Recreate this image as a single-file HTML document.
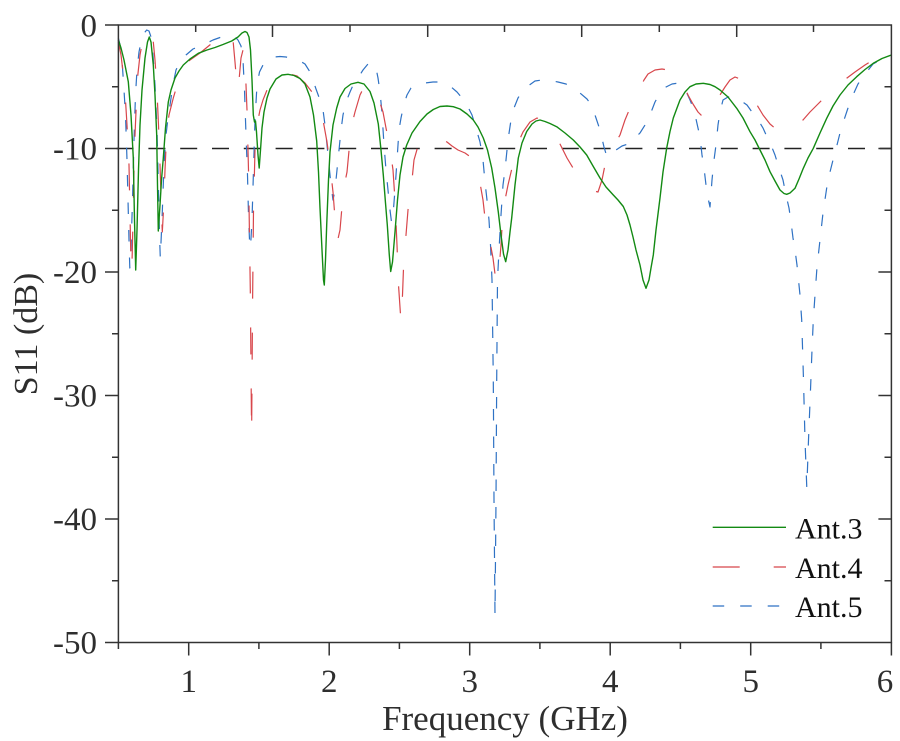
<!DOCTYPE html>
<html>
<head>
<meta charset="utf-8">
<style>
html,body{margin:0;padding:0;background:#fff;}
svg{display:block;}
.t{font-family:"Liberation Serif","Times New Roman",Times,serif;}
</style>
</head>
<body>
<svg width="900" height="741" viewBox="0 0 900 741" xmlns="http://www.w3.org/2000/svg">
<rect x="0" y="0" width="900" height="741" fill="#fff"/>
<line x1="116.6" y1="148.5" x2="891" y2="148.5" stroke="#222" stroke-width="1.5" stroke-dasharray="17 14.8"/>
<polyline fill="none" stroke="#2f72c4" stroke-width="1.2" stroke-dasharray="11.5 16" stroke-linejoin="round" points="118.4,38 120,45 122,60 124,90 125.5,115 127,160 128,200 129,240 129.8,268 131,250 132.5,200 134,140 135.5,95 137,70 139,52 141,42 143.5,34 146.7,30 149,31 151,37 153,55 155,85 157,130 158.5,190 159.5,235 160.3,258 162,220 164,165 166,135 168,118 170,105 173,85 176,70 180,62 186,55 193,49 200,46 207,43 213,40 220,37.5 226,36 231,35.5 235,37 238,40 241,46 243,60 244.5,90 246,135 247.5,175 248.5,215 249.5,240 250.5,248 252,220 253.5,170 255,120 257,85 259.5,72 263,65 268,59 274,57 280,56.5 286,57 293,58.5 300,61 305,64 310,72 313,80 316,89 320,100 323,110 325,125 327,145 329,165 331,185 333,200 335,190 337,170 339,150 341,130 343,115 346,102 350,92 354,83 358,78 363,70 368,64 373,63 376,68 378,78 380,92 382,113 384,145 386,170 388,190 390,210 391.5,222 393,215 395,190 397,160 399,130 401,118 404,104 407,95 411,88 416,85 425,83 433,82 441,82 450,86 457,92 462,98 467,105 472,115 476,128 480,142 483,160 485,182 487,200 489,220 490.5,245 492,280 493.3,380 494,500 495,615 496,500 496.7,380 497.5,280 499,250 501,215 503,185 505,170 508,140 511,120 514,108 518,98 522,92 528,86 535,81 542,80 550,80.5 558,82 566,84 573,88 580,93 587,99 592,106 596,118 600,130 604,147 607,157 611,153 616,150 622,146 628,144 634,139 640,133 645,125 650,115 655,102 660,93 666,87 672,84 679,83 684,87 690,100 694,110 698,128 700,137 702,155 704,168 706,185 708,198 710,207 712,180 714,160 716,145 718,125 720,112 723,100 728,97 734,97 740,100 747,105 752,112 757,118 763,128 767,137 771,145 775,155 779,168 783,180 786,195 789,208 791,222 793,238 795,250 797,265 798.5,280 800,295 801.7,320 803.5,380 805,440 806.8,488 808.5,440 810.5,390 812,350 813.3,320 815,295 817,267 820,240 823,213 827,186 830,172 833,160 837,145 840,133 844,120 848,108 853,95 858,84 865,74 873,64 882,59 891.4,55"/>
<polyline fill="none" stroke="#d8464b" stroke-width="1.2" stroke-dasharray="27 34" stroke-linejoin="round" points="118.4,42 121,55 123,72 125,92 127,125 129,165 130,215 131,265 131.8,272 133,220 134,170 135,135 136.5,100 137.7,76 140,55 142,44 145,34 147.3,30 149.5,31 151.5,35 153.3,42 155,60 156.7,85 158.5,125 160,165 161.3,205 162.3,232 163.5,210 165,170 166.7,132 169,115 173.3,98 178,82 183.3,68 190,60 200,53 211.7,43.5 220,38 226,35 231,32.5 233,40 235,62 236.5,80 238,90 239.5,75 241,58 243,50 245,60 247,110 248.5,170 250.3,290 251.6,435 252.6,300 253.5,210 255,150 257,125 260,110 263,100 267,90 273,77 280,74 288,73.5 297,76 305,83 312,92 317,100 320,106 323,120 327,142 330,165 333,192 335.5,225 337.5,241 340,230 343,195 345,182 347,172 350,140 352.5,122 355,112 360,95 365,85 370,86 375,92 380,103 383,112 386,128 390,148 393,170 395,200 397,245 398.5,285 401,322 402.5,295 404,255 406,235 408,210 410,198 412,180 414,160 418,146 423,141 430,138.5 437,139 443,140 447,142 452,146 458,150 465,153 472,158 476,170 480,183 483,200 485,218 488,232 490,242 493,258 496,282 499,270 501,245 503,210 505,200 508,185 512,168 515,155 518,143 523,132 530,122 537,118 541,120 545,124 550,130 557,138 562,148 567,158 573,168 580,176 585,183 590,188 594,191 598,192 602,180 605,165 608,157 612,150 616,142 620,135 625,120 630,108 635,97 640,88 644,80 648,74 655,70 662,69 668,70 675,73 680,80 685,88 688,95 693,104 698,112 703,117 706,119 709,115 712,107 716,100 720,95 725,87 730,80 735,77 740,79 745,86 750,95 757,105 763,115 770,124 777,130 783,132 788,131 795,127 803,120 810,112 818,104 827,95 835,88 840,84 847,78 855,72 865,65 878,57 891.4,52"/>
<polyline fill="none" stroke="#138a13" stroke-width="1.4" stroke-linejoin="round" points="118.4,40 121,48 124,60 128.3,81.7 131,115 133.3,158 134.5,220 135.7,270 137,230 138.5,170 140,125 142,90 145,58 147.5,42 149.3,37 151,42 153.3,65 155,95 156.7,135 157.5,185 158.3,231 160,205 161.5,180 163.3,158 165.5,128 168.3,102 171,90 175,78 179,71 183.3,65 190,59 198.3,53.3 207,50 215,47.5 223,44.5 231.7,41 238,37 242,33 245,31.5 247,32.5 249,37 250.5,50 252,80 253.3,115 254.5,122 255.5,121 256.5,132 258,155 259.2,168 260.5,150 262,128 264,112 267,98 270,89 276,79 282,75 288,74.3 294,75.5 300,78.5 305,84 310,97 313.5,115 316.7,141 318.5,172 320,208 322,250 323.5,280 324.3,285 325.5,260 326.7,225 328.5,180 330,152 333,125 336.7,108 340,97 345,88.5 351,84 358,82.3 364,84 370,91.5 374,103 378.3,124 381,150 383.3,175 385.5,203 387.3,225 389.3,255 390.7,271.5 392.5,262 395,232 397.5,200 400,175 403,157 406.7,145 412,133 420,121.5 427,114 433.3,109.5 440,106.5 447,106 453.3,106.7 460,109 467,114 473.3,120 478,127 483.3,138 487.5,150 491.7,168 495,188 498.3,212 501,235 503.5,254 505.7,261.7 508,250 510,232 511.7,218 515,185 518.3,158 522,143 526.7,131.5 532,124 536,121 540,120 545,121.5 550,123.5 556.7,126.7 565,133 573.3,140 580,147 586.7,155 593,166 600,178 606,187 613.3,195 618,200 623.3,206.5 627,215 630,225 633,237 636,250 640,265 643,280 646,288.3 649,280 651,268 653.3,255 656,230 660,198 663,172 666.7,148 670,131.5 673.3,118 677,108 680,100 685,92 690,86.7 696,84 703.3,83.3 710,84.5 715,86.7 720,90 728,97 736.7,108.3 743,118 750,131.7 755,140 760,150 765,160 770,171.7 775,181 780,190 784,193.5 786.7,194.3 790,193 795,188.3 799,179 803.3,168.3 808,158 813.3,148.3 820,133 826.7,118.3 833,106 840,95 848,85 856.7,76.7 865,69.5 873.3,63.3 882,58.5 891.4,55"/>
<g stroke="#333" stroke-width="1.5" fill="none">
<rect x="118.4" y="25" width="773" height="617.5"/>
<path d="M105 25H118.4M105 148.5H118.4M105 272H118.4M105 395.5H118.4M105 519H118.4M105 642.5H118.4M112 86.75H118.4M112 210.25H118.4M112 333.75H118.4M112 457.25H118.4M112 580.75H118.4"/>
<path d="M878.4 148.5H891.4M878.4 272H891.4M878.4 395.5H891.4M878.4 519H891.4M884.5 86.75H891.4M884.5 210.25H891.4M884.5 333.75H891.4M884.5 457.25H891.4M884.5 580.75H891.4"/>
<path d="M188.7 642.5V655.5M329.2 642.5V655.5M469.7 642.5V655.5M610.2 642.5V655.5M750.7 642.5V655.5M891.4 642.5V655.5M118.4 642.5V649M258.9 642.5V649M399.4 642.5V649M539.9 642.5V649M680.4 642.5V649M820.9 642.5V649"/>
<path d="M195.7 25V32M272.5 25V37M350 25V32M427.7 25V37M504.5 25V32M581.7 25V37M659.3 25V32M736.7 25V37M813.5 25V32"/>
</g>
<g class="t" fill="#2e2e2e" font-size="33" text-anchor="end">
<text class="t" x="97" y="36.5">0</text>
<text class="t" x="97" y="159.5">-10</text>
<text class="t" x="97" y="283">-20</text>
<text class="t" x="97" y="406.5">-30</text>
<text class="t" x="97" y="530">-40</text>
<text class="t" x="97" y="653.5">-50</text>
</g>
<g class="t" fill="#2e2e2e" font-size="33" text-anchor="middle">
<text class="t" x="188.7" y="692">1</text>
<text class="t" x="329.2" y="692">2</text>
<text class="t" x="469.7" y="692">3</text>
<text class="t" x="610.2" y="692">4</text>
<text class="t" x="750.7" y="692">5</text>
<text class="t" x="885" y="692">6</text>
</g>
<text class="t" fill="#2e2e2e" x="505" y="730" font-size="35" text-anchor="middle">Frequency (GHz)</text>
<text class="t" fill="#2e2e2e" x="0" y="0" font-size="34" text-anchor="middle" transform="translate(37,334) rotate(-90)">S11 (dB)</text>
<g class="t" font-size="30" fill="#111">
<text class="t" x="795" y="538.3">Ant.3</text>
<text class="t" x="795" y="578">Ant.4</text>
<text class="t" x="795" y="617">Ant.5</text>
</g>
<line x1="712.7" y1="527.3" x2="786" y2="527.3" stroke="#138a13" stroke-width="1.4"/>
<line x1="712.7" y1="567" x2="786" y2="567" stroke="#d8464b" stroke-width="1.2" stroke-dasharray="27 34"/>
<line x1="712.7" y1="606" x2="786" y2="606" stroke="#2f72c4" stroke-width="1.2" stroke-dasharray="11.5 16"/>
</svg>
</body>
</html>
